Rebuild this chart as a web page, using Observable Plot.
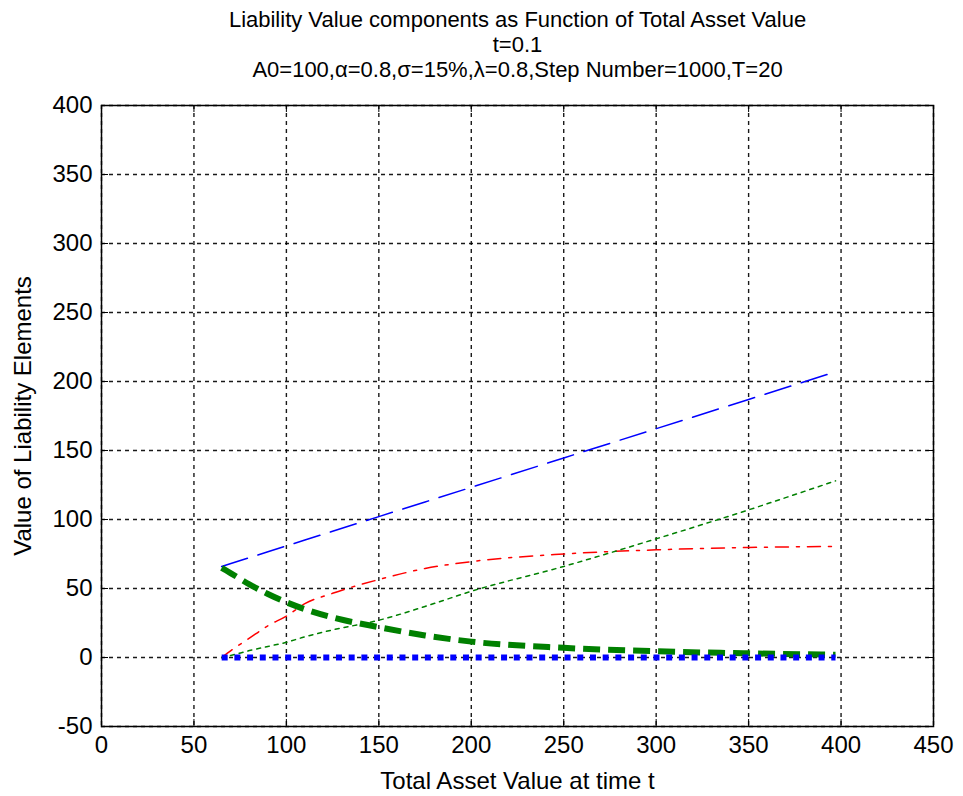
<!DOCTYPE html>
<html><head><meta charset="utf-8">
<script src="https://cdn.jsdelivr.net/npm/d3@7"></script>
<script src="https://cdn.jsdelivr.net/npm/@observablehq/plot@0.6"></script>
<style>body{margin:0;background:#fff;}</style>
</head><body><div id="chart"></div>
<script>
// Data
const assetValue      = [65, 70, 80, 90, 100, 110, 125, 150, 175, 200, 250, 300, 350, 397];
const totalLiability  = [66, 68.1, 72.4, 76.6, 80.9, 85.1, 91.5, 102.1, 112.7, 123.3, 144.6, 165.8, 187.0, 207];
const redComponent    = [0, 5, 14, 23, 30, 39, 46.5, 56.5, 64.5, 69.5, 75, 78, 79.7, 80.5];
const greenDotted     = [0, 1.5, 5, 8, 11, 15, 20, 27, 37, 48, 66, 86, 107, 128];
const greenThick      = [65, 61, 53, 46, 40, 35, 29, 22, 16, 11.5, 7, 4.5, 3, 2];
const blueThick       = [0, 0, 0, 0, 0, 0, 0, 0, 0, 0, 0, 0, 0, 0];

const xTicks = [0, 50, 100, 150, 200, 250, 300, 350, 400, 450];
const yTicks = [-50, 0, 50, 100, 150, 200, 250, 300, 350, 400];
const titleLines = [
  "Liability Value components as Function of Total Asset Value",
  "t=0.1",
  "A0=100,\u03b1=0.8,\u03c3=15%,\u03bb=0.8,Step Number=1000,T=20"
];
const xLabel = "Total Asset Value at time t";
const yLabel = "Value of Liability Elements";

const rows = ys => assetValue.map((x, i) => ({x, y: ys[i]}));
const W = 963, H = 796, mL = 101, mR = 30, mT = 105, mB = 70;
const frameW = W - mL - mR, frameH = H - mT - mB;
const font = "'Liberation Sans', Arial, sans-serif";

const chart = Plot.plot({
  width: W, height: H,
  marginLeft: mL, marginRight: mR, marginTop: mT, marginBottom: mB,
  style: {fontFamily: font, fontSize: "24px", color: "#000", background: "#fff", overflow: "visible"},
  x: {domain: [0, 450]},
  y: {domain: [-50, 400]},
  marks: [
    Plot.gridX(xTicks, {stroke: "#000", strokeOpacity: 0.9, strokeWidth: 1.4, strokeDasharray: "4,4"}),
    Plot.gridY(yTicks, {stroke: "#000", strokeOpacity: 0.9, strokeWidth: 1.4, strokeDasharray: "4,4"}),
    Plot.line(rows(totalLiability), {x: "x", y: "y", stroke: "#0000ff", strokeWidth: 1.5, strokeDasharray: "27,11"}),
    Plot.line(rows(redComponent), {x: "x", y: "y", stroke: "#ff0000", strokeWidth: 1.5, strokeDasharray: "13,8,3,8", curve: "monotone-x"}),
    Plot.line(rows(greenDotted), {x: "x", y: "y", stroke: "#008000", strokeWidth: 1.5, strokeDasharray: "4,5", curve: "monotone-x"}),
    Plot.line(rows(greenThick), {x: "x", y: "y", stroke: "#008000", strokeWidth: 6, strokeDasharray: "17,8", strokeLinecap: "butt", curve: "monotone-x"}),
    Plot.line(rows(blueThick), {x: "x", y: "y", stroke: "#0000ff", strokeWidth: 6, strokeDasharray: "6,6.7", strokeLinecap: "butt"}),
    Plot.tickX(xTicks, {x: d => d, insetTop: frameH - 7, stroke: "#000"}),
    Plot.tickX(xTicks, {x: d => d, insetBottom: frameH - 7, stroke: "#000"}),
    Plot.tickY(yTicks, {y: d => d, insetRight: frameW - 7, stroke: "#000"}),
    Plot.tickY(yTicks, {y: d => d, insetLeft: frameW - 7, stroke: "#000"}),
    Plot.frame({stroke: "#000", strokeWidth: 1.5}),
    Plot.axisX({ticks: xTicks, tickSize: 0, tickPadding: 9, label: null, fontSize: 24, tickFormat: d => String(d)}),
    Plot.axisY({ticks: yTicks, tickSize: 0, tickPadding: 9, label: null, fontSize: 24, tickFormat: d => String(d)}),
    Plot.text([xLabel], {text: d => d, frameAnchor: "bottom", lineAnchor: "bottom", dy: 62, fontSize: 24, fill: "#000"}),
    Plot.text([yLabel], {text: d => d, frameAnchor: "left", textAnchor: "middle", lineAnchor: "bottom", rotate: -90, dx: -71, fontSize: 24, fill: "#000"}),
    Plot.text([titleLines[0]], {text: d => d, frameAnchor: "top", lineAnchor: "bottom", dy: -79, fontSize: 22, fill: "#000"}),
    Plot.text([titleLines[1]], {text: d => d, frameAnchor: "top", lineAnchor: "bottom", dy: -54, fontSize: 22, fill: "#000"}),
    Plot.text([titleLines[2]], {text: d => d, frameAnchor: "top", lineAnchor: "bottom", dy: -29, fontSize: 22, fill: "#000"})
  ]
});
document.getElementById("chart").appendChild(chart);
</script>
</body></html>
